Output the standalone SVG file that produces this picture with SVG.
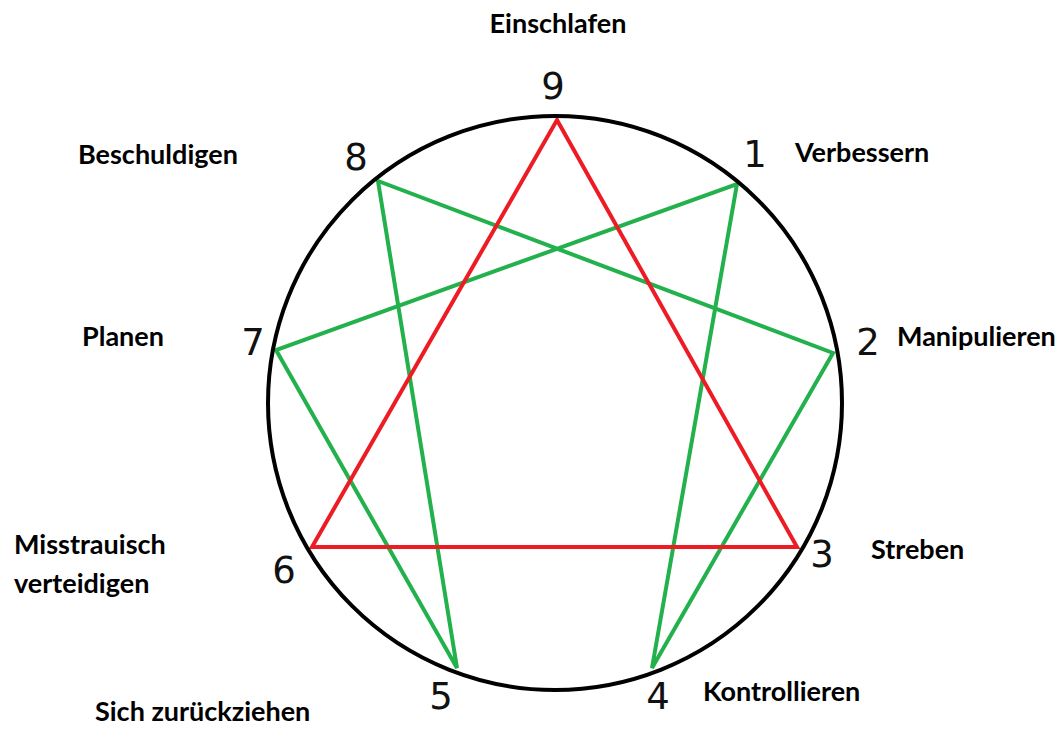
<svg xmlns="http://www.w3.org/2000/svg" width="1063" height="729" viewBox="0 0 1063 729">
<style>
.num{font-family:"DejaVu Sans",sans-serif;font-size:37px;fill:#111;text-anchor:middle}
.lbl{font-family:Lato,"Liberation Sans",sans-serif;font-weight:bold;font-size:27px;fill:#000}
.red{stroke:#ed1c24;stroke-width:4;fill:none}
.grn{stroke:#22b14c;stroke-width:4;fill:none}
</style>
<rect width="1063" height="729" fill="#fff"/>
<g id="connectors">
<path class="grn" d="M737,184 L652,668 L833,353 L378,181 L457,668 L276,350 Z"/>
<path class="red" d="M557,120 L797,547 L312,547 Z"/>
</g>
<g id="circle"><circle cx="555" cy="403" r="287" fill="none" stroke="#000" stroke-width="4"/></g>
<g id="n9"><text class="num" x="553" y="99">9</text><text class="lbl" x="558" y="33" text-anchor="middle">Einschlafen</text></g>
<g id="n1"><text class="num" x="755" y="167">1</text><text class="lbl" x="795" y="162">Verbessern</text></g>
<g id="n2"><text class="num" x="868" y="355">2</text><text class="lbl" x="897" y="346">Manipulieren</text></g>
<g id="n3"><text class="num" x="822" y="567">3</text><text class="lbl" x="871" y="559">Streben</text></g>
<g id="n4"><text class="num" x="658" y="709">4</text><text class="lbl" x="703" y="701">Kontrollieren</text></g>
<g id="n5"><text class="num" x="441" y="709">5</text><text class="lbl" x="95" y="721">Sich zurückziehen</text></g>
<g id="n6"><text class="num" x="284" y="583">6</text><text class="lbl" x="14" y="554">Misstrauisch</text><text class="lbl" x="14" y="593">verteidigen</text></g>
<g id="n7"><text class="num" x="253" y="355">7</text><text class="lbl" x="82" y="346">Planen</text></g>
<g id="n8"><text class="num" x="356" y="170">8</text><text class="lbl" x="78" y="164">Beschuldigen</text></g>
</svg>
